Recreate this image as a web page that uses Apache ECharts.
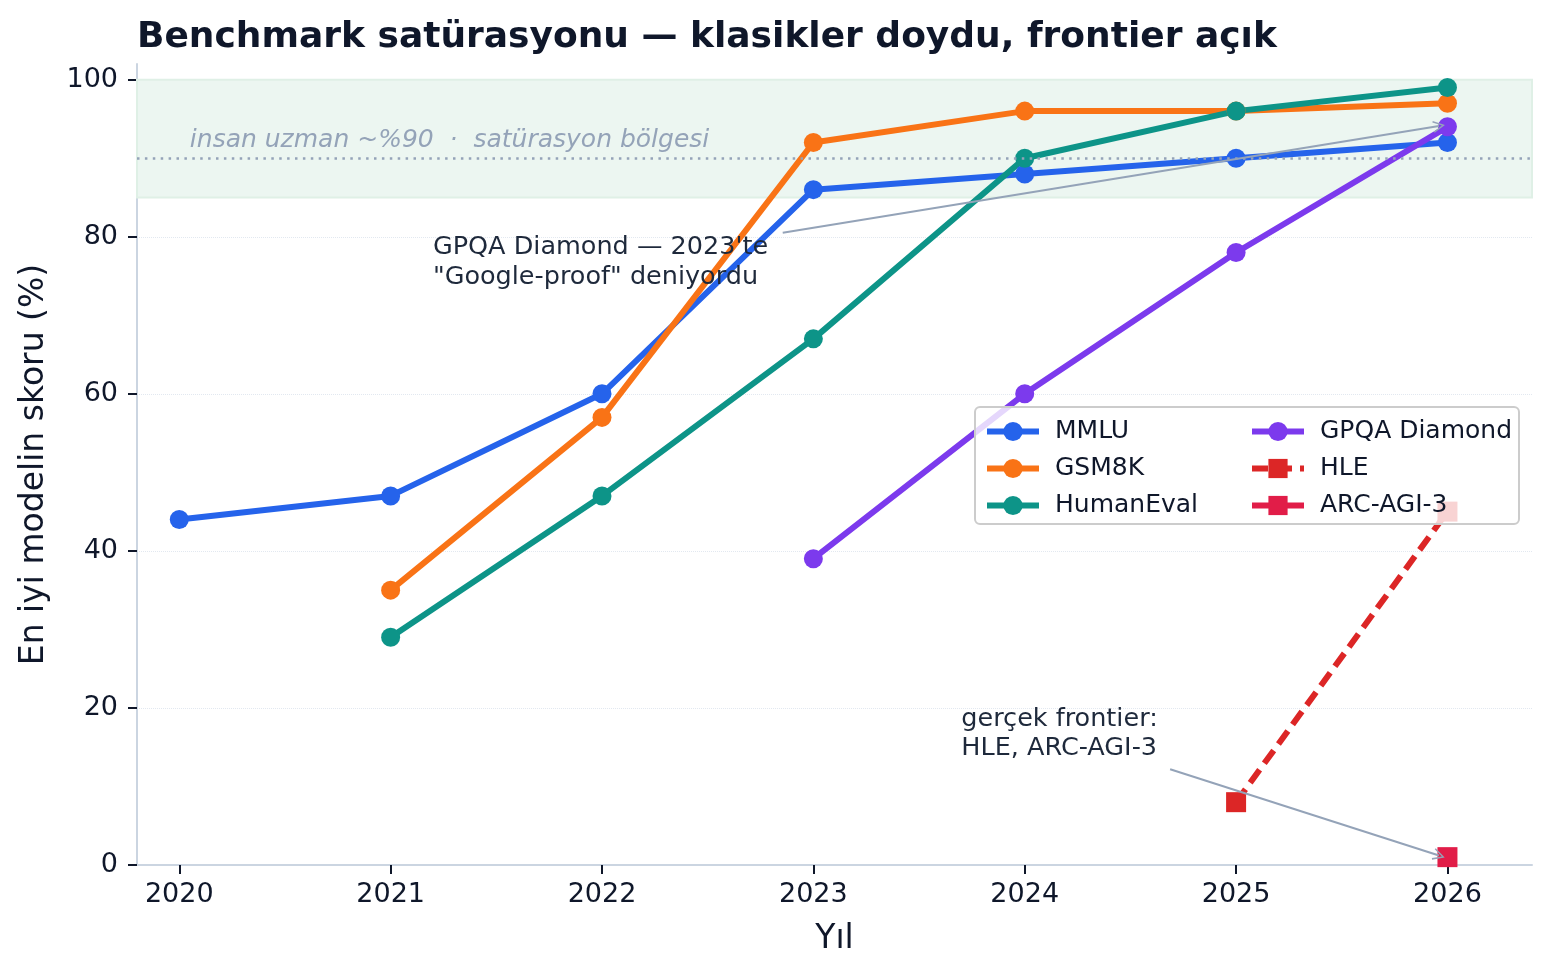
<!DOCTYPE html>
<html>
<head>
<meta charset="utf-8">
<script src="https://cdn.jsdelivr.net/npm/echarts@6/dist/echarts.min.js"></script>
<style>
  html, body { margin: 0; padding: 0; background: #fff; }
  #chart { width: 1551px; height: 977px; }
</style>
</head>
<body>
<div id="chart"></div>
<script>
// data
const years = [2020, 2021, 2022, 2023, 2024, 2025, 2026];
const mmlu = [44, 47, 60, 86, 88, 90, 92];
const gsm8k = [null, 35, 57, 92, 96, 96, 97];
const humanEval = [null, 29, 47, 67, 90, 96, 99];
const gpqaDiamond = [null, null, null, 39, 60, 78, 94];
const hle = [null, null, null, null, null, 8, 45];
const arcAgi3 = [null, null, null, null, null, null, 1];
const yTicks = [0, 20, 40, 60, 80, 100];
const expertLevel = 90;
const saturationBand = [85, 100];

const FONT = 'DejaVu Sans';
const INK = '#0f172a';
const MUTED = '#94a3b8';

function pairs(vals) {
  return years.map((y, i) => [y, vals[i]]).filter(p => p[1] != null);
}

function lineSeries(name, vals, color, symbol, dashed) {
  return {
    name: name,
    type: 'line',
    data: pairs(vals),
    z: 3,
    symbol: symbol,
    symbolSize: symbol === 'rect' ? 20 : 19,
    showSymbol: true,
    itemStyle: { color: color },
    lineStyle: { color: color, width: 6, type: dashed ? [16, 8] : 'solid' },
    emphasis: { disabled: true },
    animation: false
  };
}

const arrowHead = 'path://M0,12 L6,0 L12,12 L10.6,12.7 L6,3.2 L1.4,12.7 Z';

const legendCommon = {
  orient: 'vertical', top: 414, z: 20,
  itemWidth: 52, itemHeight: 24, itemGap: 12,
  lineStyle: { width: 6 },
  textStyle: { fontFamily: FONT, fontSize: 25, color: INK, padding: [0, 0, 0, 11] },
  selectedMode: false
};

const option = {
  animation: false,
  title: {
    text: 'Benchmark satürasyonu — klasikler doydu, frontier açık',
    left: 132, top: 15,
    textStyle: { fontFamily: FONT, fontSize: 36, fontWeight: 'bold', color: INK }
  },
  grid: { left: 137, right: 19, top: 64, bottom: 112 },
  xAxis: {
    type: 'value', min: 2019.8, max: 2026.4,
    name: 'Yıl', nameLocation: 'middle', nameGap: 58,
    nameTextStyle: { fontFamily: FONT, fontSize: 33, color: INK },
    axisLine: { show: true, lineStyle: { color: '#cbd5e1', width: 2 } },
    axisTick: { show: true, customValues: years, length: 9, lineStyle: { color: INK, width: 2 } },
    axisLabel: { customValues: years, margin: 16, fontFamily: FONT, fontSize: 27, color: INK,
                 formatter: v => String(v) },
    splitLine: { show: false }
  },
  yAxis: {
    type: 'value', min: 0, max: 102,
    name: 'En iyi modelin skoru (%)', nameLocation: 'middle', nameGap: 86,
    nameTextStyle: { fontFamily: FONT, fontSize: 33, color: INK },
    axisLine: { show: true, lineStyle: { color: '#cbd5e1', width: 2 } },
    axisTick: { show: true, customValues: yTicks, length: 9, lineStyle: { color: INK, width: 2 } },
    axisLabel: { customValues: yTicks, margin: 19, fontFamily: FONT, fontSize: 27, color: INK },
    splitLine: { show: true, showMaxLine: false, lineStyle: { color: '#e2e8f0', type: 'dotted', width: 1 } }
  },
  legend: [
    Object.assign({ data: ['MMLU', 'GSM8K', 'HumanEval'], left: 979 }, legendCommon),
    Object.assign({ data: ['GPQA Diamond', 'HLE', 'ARC-AGI-3'], left: 1244 }, legendCommon)
  ],
  series: [
    {
      name: 'band', type: 'line', data: [], z: 1, silent: true,
      markArea: {
        silent: true,
        itemStyle: { color: '#ecf6f1', borderColor: '#dff0e6', borderWidth: 2 },
        data: [[{ yAxis: saturationBand[0] }, { yAxis: saturationBand[1] }]]
      },
      markLine: {
        silent: true, symbol: 'none', label: { show: false },
        lineStyle: { color: MUTED, type: [2.5, 5.4], width: 2.5 },
        data: [{ yAxis: expertLevel }]
      }
    },
    lineSeries('MMLU', mmlu, '#2563eb', 'circle'),
    lineSeries('GSM8K', gsm8k, '#f97316', 'circle'),
    lineSeries('HumanEval', humanEval, '#0d9488', 'circle'),
    lineSeries('GPQA Diamond', gpqaDiamond, '#7c3aed', 'circle'),
    lineSeries('HLE', hle, '#dc2626', 'rect', true),
    lineSeries('ARC-AGI-3', arcAgi3, '#e11d48', 'rect'),
    {
      name: 'arrows', type: 'line', data: [], z: 6, silent: true,
      markLine: {
        silent: true, label: { show: false },
        symbol: ['none', arrowHead], symbolSize: [12, 12],
        lineStyle: { color: MUTED, type: 'solid', width: 2 },
        data: [
          [{ coord: [2022.855, 80.5] }, { coord: [2025.96, 94.1] }],
          [{ coord: [2024.688, 12.2] }, { coord: [2025.96, 1.2] }]
        ]
      }
    }
  ]
};

const chart = echarts.init(document.getElementById('chart'));
chart.setOption(option);

const px = p => chart.convertToPixel({ gridIndex: 0 }, p);
const legendBoxTop = 407, legendBoxLeft = 975;

const bandLabel = px([2020.05, 92.2]);
const note1 = px([2021.2, 80.5]);
const note2 = px([2023.7, 20.45]);

chart.setOption({
  graphic: [
    {
      type: 'rect', z: 10, silent: true,
      shape: { x: legendBoxLeft, y: legendBoxTop, width: 544, height: 117, r: 5 },
      style: { fill: 'rgba(255,255,255,0.8)', stroke: '#cccccc', lineWidth: 2 }
    },
    {
      type: 'text', z: 2, silent: true, x: bandLabel[0], y: bandLabel[1],
      style: { text: 'insan uzman ~%90  ·  satürasyon bölgesi', fill: MUTED,
               font: 'italic 25px "DejaVu Sans"', textVerticalAlign: 'middle' }
    },
    {
      type: 'text', z: 7, silent: true, x: note1[0], y: note1[1],
      style: { text: 'GPQA Diamond — 2023\'te\n"Google-proof" deniyordu', fill: '#1e293b',
               font: '25.5px "DejaVu Sans"', lineHeight: 30, textVerticalAlign: 'top' }
    },
    {
      type: 'text', z: 7, silent: true, x: note2[0], y: note2[1],
      style: { text: 'gerçek frontier:\nHLE, ARC-AGI-3', fill: '#1e293b',
               font: '25.5px "DejaVu Sans"', lineHeight: 29, textVerticalAlign: 'top' }
    }
  ]
});
</script>
</body>
</html>
